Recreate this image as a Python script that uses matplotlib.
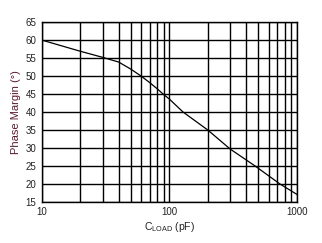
import matplotlib
matplotlib.use("Agg")
import matplotlib.pyplot as plt
from matplotlib.ticker import FixedLocator, NullFormatter, FixedFormatter

plt.rcParams['font.family'] = ['Liberation Sans', 'DejaVu Sans']

cload = [10, 20, 30, 40, 50, 60, 70, 80, 90, 100, 128, 200, 300, 470, 736, 1000]
phase = [60, 56.9, 55.2, 53.9, 51.9, 50, 48.2, 46.5, 44.9, 43.6, 40, 35, 29.7, 25, 20, 17.1]
xticks = [10, 100, 1000]
xticklabels = ['10', '100', '1000']
yticks = list(range(15, 66, 5))

fig = plt.figure(figsize=(3.22, 2.43), dpi=100)
ax = fig.add_axes([0.130, 0.169, 0.792, 0.740])
ax.set_xscale('log')
ax.set_xlim(10, 1000)
ax.set_ylim(15, 65)
ax.plot(cload, phase, color='black', linewidth=0.9)

ax.xaxis.set_major_locator(FixedLocator(xticks))
ax.xaxis.set_major_formatter(FixedFormatter(xticklabels))
minor = [m * d for d in (10, 100) for m in range(2, 10)]
ax.xaxis.set_minor_locator(FixedLocator(minor))
ax.xaxis.set_minor_formatter(NullFormatter())
ax.set_yticks(yticks)
ax.grid(True, which='both', color='black', linewidth=1.0)
ax.tick_params(which='both', length=0, labelsize=7, colors='#222222', pad=4)
for s in ax.spines.values():
    s.set_linewidth(1.0)
    s.set_color('black')

ax.set_xlabel(r'C$_{\mathregular{LOAD}}$ (pF)', fontsize=7.5, color='#222222', labelpad=2)
ax.set_ylabel('Phase Margin (°)', fontsize=8, color='#5c1a33', labelpad=3)

fig.savefig('out.png', dpi=100)
